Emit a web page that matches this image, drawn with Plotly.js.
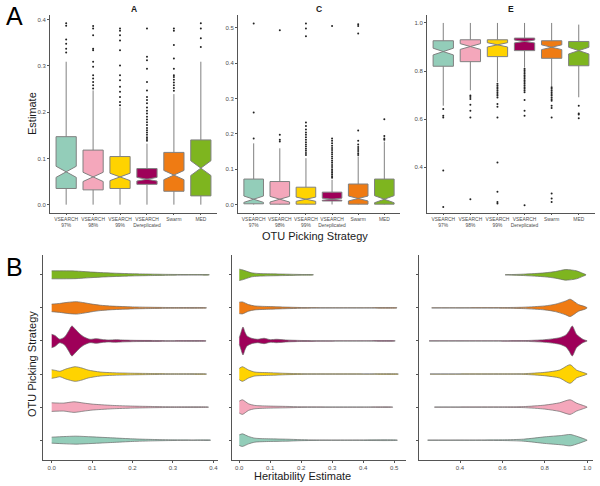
<!DOCTYPE html>
<html><head><meta charset="utf-8">
<script src="https://cdn.plot.ly/plotly-3.0.1.min.js"></script>
<style>html,body{margin:0;padding:0;background:#fff}#chart{width:600px;height:486px}</style>
</head><body><div id="chart"></div>
<script>
// ---------- categories ----------
const categories = ['VSEARCH<br>97%','VSEARCH<br>98%','VSEARCH<br>99%','VSEARCH<br>Dereplicated','Swarm','MED'];
const colors = ['#93CDB9','#F4A7BB','#FFD300','#9E0059','#EF7B13','#7EB51F'];

// ---------- Panel A (box) ----------
const A_lo    = [0.0, 0.0, 0.0, 0.0, 0.0, 0.0];
const A_q1    = [0.035, 0.032, 0.035, 0.044, 0.029, 0.019];
const A_med   = [0.071, 0.060, 0.060, 0.055, 0.064, 0.079];
const A_q3    = [0.147, 0.118, 0.104, 0.078, 0.113, 0.140];
const A_hi    = [0.309, 0.247, 0.210, 0.132, 0.239, 0.309];
const A_notch = [0.012, 0.010, 0.008, 0.004, 0.010, 0.016];
const A_out = [
  [0.392,0.387,0.357,0.348,0.337,0.329],
  [0.386,0.381,0.366,0.337,0.334,0.309,0.298,0.280,0.273,0.265,0.258,0.251],
  [0.381,0.376,0.366,0.355,0.334,0.301,0.280,0.269,0.255,0.244,0.233,0.222,0.215],
  [0.381,0.320,0.312,0.294,0.265,0.247,0.233,0.226,0.219,0.210,0.203,0.197,0.190,0.184,0.178,0.172,0.166,0.161,0.156,0.151,0.146,0.142,0.138],
  [0.381,0.376,0.345,0.316,0.294,0.280,0.276,0.270,0.264,0.258,0.252,0.246],
  [0.392,0.381,0.360,0.341]
];

// ---------- Panel C (box) ----------
const C_lo    = [0.0, 0.0, 0.0, 0.0, 0.0, 0.0];
const C_q1    = [0.002, 0.001, 0.001, 0.010, 0.001, 0.001];
const C_med   = [0.015, 0.015, 0.015, 0.015, 0.017, 0.015];
const C_q3    = [0.072, 0.065, 0.049, 0.035, 0.058, 0.072];
const C_hi    = [0.173, 0.159, 0.131, 0.070, 0.136, 0.178];
const C_notch = [0.009, 0.008, 0.006, 0.003, 0.007, 0.010];
const C_out = [
  [0.512,0.260,0.187],
  [0.493,0.197,0.183,0.178],
  [0.512,0.498,0.476,0.232,0.222,0.212,0.204,0.197,0.190,0.183,0.176,0.170,0.164,0.158,0.152,0.146,0.140],
  [0.505,0.187,0.180,0.173,0.166,0.160,0.154,0.148,0.142,0.136,0.130,0.124,0.118,0.112,0.106,0.100,0.095,0.090,0.085,0.080,0.076],
  [0.510,0.505,0.484,0.209,0.180,0.170,0.163,0.157,0.151,0.145,0.140],
  [0.241,0.194,0.187,0.183]
];

// ---------- Panel E (box) ----------
const E_lo    = [0.656, 0.720, 0.754, 0.815, 0.736, 0.691];
const E_q1    = [0.820, 0.839, 0.860, 0.885, 0.853, 0.822];
const E_med   = [0.881, 0.902, 0.909, 0.923, 0.899, 0.885];
const E_q3    = [0.926, 0.930, 0.930, 0.937, 0.926, 0.923];
const E_hi    = [1.000, 1.000, 1.000, 1.000, 1.000, 0.993];
const E_notch = [0.014, 0.012, 0.009, 0.006, 0.010, 0.014];
const E_out = [
  [0.642,0.614,0.607,0.387,0.235],
  [0.698,0.692,0.684,0.660,0.635,0.607,0.267],
  [0.747,0.740,0.733,0.726,0.719,0.712,0.705,0.698,0.690,0.663,0.652,0.607,0.420,0.298,0.256,0.249],
  [0.810,0.803,0.796,0.789,0.782,0.775,0.768,0.761,0.754,0.747,0.740,0.733,0.726,0.719,0.712,0.680,0.635,0.614,0.242],
  [0.733,0.726,0.719,0.712,0.705,0.698,0.690,0.683,0.677,0.656,0.646,0.607,0.291,0.270,0.256],
  [0.656,0.624,0.619,0.604]
];

// ---------- Violin densities (estimate grid + half-width density) ----------
const vA_x = [
  [0,0.03,0.06,0.1,0.15,0.2,0.25,0.3,0.35,0.393],
  [0,0.03,0.055,0.08,0.1,0.15,0.2,0.25,0.3,0.388],
  [0,0.01,0.02,0.035,0.058,0.075,0.09,0.12,0.15,0.2,0.25,0.3,0.383],
  [0,0.008,0.02,0.032,0.042,0.05,0.058,0.07,0.08,0.095,0.11,0.125,0.14,0.16,0.18,0.21,0.25,0.3,0.382],
  [0,0.02,0.04,0.062,0.08,0.1,0.12,0.15,0.2,0.25,0.3,0.383],
  [0,0.03,0.06,0.09,0.12,0.16,0.2,0.25,0.3,0.35,0.39]
];
const vA_d = [
  [3,3.6,4,3.3,2.3,1.3,0.7,0.35,0.2,0.1],
  [4.3,4,5.3,4,3,1.7,1,0.6,0.35,0.1],
  [4.3,3.6,2.7,5,7.3,6,4,2,1.3,0.8,0.5,0.3,0.1],
  [6.7,5.5,1.8,4,10,15,12,7,4,1.7,2.3,1.5,1.0,1.3,0.9,0.6,0.5,0.3,0.1],
  [3.8,4.5,5.6,6.2,5.2,3.8,2.7,1.8,1.0,0.6,0.35,0.1],
  [4,4,3.8,3,2.3,1.6,1.1,0.7,0.4,0.25,0.1]
];
const vC_x = [
  [0,0.01,0.03,0.05,0.1,0.15,0.2,0.25,0.35,0.51],
  [0,0.01,0.03,0.05,0.1,0.15,0.2,0.3,0.4,0.495],
  [0,0.01,0.03,0.05,0.1,0.15,0.2,0.3,0.4,0.513],
  [0,0.005,0.012,0.018,0.025,0.04,0.06,0.08,0.1,0.12,0.15,0.2,0.3,0.4,0.503],
  [0,0.01,0.03,0.05,0.1,0.15,0.2,0.3,0.4,0.509],
  [0,0.01,0.02,0.04,0.06,0.1,0.15,0.2,0.239]
];
const vC_d = [
  [5.3,6.3,3.7,2,1.3,1,0.5,0.25,0.15,0.1],
  [6,7.3,3.3,1.7,1,0.7,0.35,0.2,0.15,0.1],
  [5.7,7.3,4,2,1.3,0.7,0.35,0.2,0.15,0.1],
  [3.3,8,14,9,5,2.7,1.7,2.7,1.3,1.7,1,0.5,0.2,0.15,0.1],
  [5.7,6,3.3,2,1.3,0.8,0.4,0.2,0.15,0.1],
  [5.7,5,4,2,1.4,1,0.7,0.35,0.1]
];
const vE_x = [
  [0.247,0.4,0.6,0.7,0.8,0.88,0.92,0.96,0.99,1.0],
  [0.279,0.4,0.6,0.7,0.8,0.87,0.92,0.95,0.99,1.0],
  [0.258,0.4,0.6,0.7,0.8,0.87,0.92,0.95,0.98,1.0],
  [0.254,0.4,0.6,0.7,0.8,0.87,0.9,0.915,0.93,0.95,0.98,1.0],
  [0.266,0.4,0.6,0.7,0.8,0.85,0.9,0.92,0.96,0.99,1.0],
  [0.613,0.7,0.8,0.85,0.9,0.95,0.98,0.995]
];
const vE_d = [
  [0.1,0.15,0.35,1,3.3,4.7,5.7,3.3,1,0.1],
  [0.1,0.15,0.25,0.5,2,4.3,7.3,4,1,0.1],
  [0.1,0.15,0.25,0.35,1.7,4,9.3,4,1.7,0.1],
  [0.1,0.15,0.2,0.35,1.3,3.3,6,10,15,6.7,1.7,0.1],
  [0.1,0.15,0.3,0.7,2,3.7,7,8.7,3.3,1.3,0.1],
  [0.1,0.7,2,3.3,5.3,4,1.5,0.1]
];
const violinScale = 33.1; // density units per category step

// ---------- build traces ----------
const traces = [];
function addBoxPanel(lo,q1,med,q3,hi,notch,out,xa,ya){
  for(let i=0;i<categories.length;i++){
    traces.push({type:'box', x:[i], lowerfence:[lo[i]], q1:[q1[i]], median:[med[i]], q3:[q3[i]], upperfence:[hi[i]],
      notchspan:[notch[i]], notched:true, notchwidth:0.5, width:0.75, whiskerwidth:0, boxpoints:false,
      fillcolor:colors[i], line:{color:'#808080', width:1}, xaxis:xa, yaxis:ya, showlegend:false, hoverinfo:'skip'});
  }
  const ox=[], oy=[];
  out.forEach((arr,i)=>arr.forEach(v=>{ox.push(i); oy.push(v);}));
  traces.push({type:'scatter', mode:'markers', x:ox, y:oy, marker:{size:2, color:'#222'}, xaxis:xa, yaxis:ya, showlegend:false, hoverinfo:'skip'});
}
addBoxPanel(A_lo,A_q1,A_med,A_q3,A_hi,A_notch,A_out,'x','y');
addBoxPanel(C_lo,C_q1,C_med,C_q3,C_hi,C_notch,C_out,'x2','y2');
addBoxPanel(E_lo,E_q1,E_med,E_q3,E_hi,E_notch,E_out,'x3','y3');

function addViolinPanel(vx,vd,xa,ya){
  for(let i=0;i<categories.length;i++){
    const xs = vx[i], ds = vd[i];
    const px = xs.concat(xs.slice().reverse());
    const up = ds.map(d=>i+d/violinScale);
    const dn = ds.map(d=>i-d/violinScale).reverse();
    traces.push({type:'scatter', mode:'lines', x:px, y:up.concat(dn), fill:'toself', fillcolor:colors[i],
      line:{color:'#6a6a6a', width:0.7, shape:'spline', smoothing:0.7}, xaxis:xa, yaxis:ya, showlegend:false, hoverinfo:'skip'});
  }
}
addViolinPanel(vA_x,vA_d,'x4','y4');
addViolinPanel(vC_x,vC_d,'x5','y5');
addViolinPanel(vE_x,vE_d,'x6','y6');

// ---------- layout ----------
const FONT = 'Liberation Sans, Arial, sans-serif';
const axLine = {showline:true, linecolor:'#555', linewidth:1, ticks:'outside', ticklen:2, tickcolor:'#555',
  showgrid:false, zeroline:false, tickangle:0, tickfont:{family:FONT, size:6, color:'#4d4d4d'}};
function ax(extra){ return Object.assign({}, axLine, extra); }
const topY=[1-213/486, 1-15/486], botY=[1-460/486, 1-255/486];
const catAxis = {range:[-0.6,5.6], tickvals:[0,1,2,3,4,5], ticktext:categories, ticklen:1,
  tickfont:{family:FONT,size:4.9,color:'#4d4d4d'}};

function ann(text,px,py,size,extra){
  return Object.assign({text:text, x:px/600, y:1-py/486, xref:'paper', yref:'paper', xanchor:'center', yanchor:'middle',
    showarrow:false, font:{family:FONT,size:size,color:'#1a1a1a'}}, extra||{});
}

const layout = {
  width:600, height:486, margin:{l:0,r:0,t:0,b:0}, paper_bgcolor:'#fff', plot_bgcolor:'#fff',
  boxmode:'overlay', showlegend:false,
  xaxis:  ax(Object.assign({domain:[50/600,217/600], anchor:'y'}, catAxis)),
  xaxis2: ax(Object.assign({domain:[238/600,400/600], anchor:'y2'}, catAxis)),
  xaxis3: ax(Object.assign({domain:[427/600,595/600], anchor:'y3'}, catAxis)),
  yaxis:  ax({domain:topY, anchor:'x', range:[-0.018,0.41], tickvals:[0,0.1,0.2,0.3,0.4], ticktext:['0.0','0.1','0.2','0.3','0.4']}),
  yaxis2: ax({domain:topY, anchor:'x2', range:[-0.024,0.536], tickvals:[0,0.1,0.2,0.3,0.4,0.5], ticktext:['0.0','0.1','0.2','0.3','0.4','0.5']}),
  yaxis3: ax({domain:topY, anchor:'x3', range:[0.21,1.033], tickvals:[0.4,0.6,0.8,1.0], ticktext:['0.4','0.6','0.8','1.0']}),
  xaxis4: ax({domain:[43/600,218/600], anchor:'y4', range:[-0.0215,0.4116], tickvals:[0,0.1,0.2,0.3,0.4], ticktext:['0.0','0.1','0.2','0.3','0.4']}),
  xaxis5: ax({domain:[231.7/600,406/600], anchor:'y5', range:[-0.0245,0.538], tickvals:[0,0.1,0.2,0.3,0.4,0.5], ticktext:['0.0','0.1','0.2','0.3','0.4','0.5']}),
  xaxis6: ax({domain:[419.3/600,593/600], anchor:'y6', range:[0.2076,1.028], tickvals:[0.4,0.6,0.8,1.0], ticktext:['0.4','0.6','0.8','1.0']}),
  yaxis4: ax({domain:botY, anchor:'x4', range:[-0.6,5.6], tickvals:[0,1,2,3,4,5], showticklabels:false}),
  yaxis5: ax({domain:botY, anchor:'x5', range:[-0.6,5.6], tickvals:[0,1,2,3,4,5], showticklabels:false}),
  yaxis6: ax({domain:botY, anchor:'x6', range:[-0.6,5.6], tickvals:[0,1,2,3,4,5], showticklabels:false}),
  annotations: [
    ann('A', 14, 16, 25, {font:{family:FONT,size:25,color:'#000'}}),
    ann('B', 14, 267, 25, {font:{family:FONT,size:25,color:'#000'}}),
    ann('<b>A</b>', 133.5, 8.5, 8.5),
    ann('<b>C</b>', 319, 8.5, 8.5),
    ann('<b>E</b>', 511, 8.5, 8.5),
    ann('Estimate', 32, 114, 11, {textangle:-90}),
    ann('OTU Picking Strategy', 315, 236, 11),
    ann('OTU Picking Strategy', 32, 364, 11, {textangle:-90}),
    ann('Heritability Estimate', 302, 476, 11)
  ]
};
Plotly.newPlot('chart', traces, layout, {staticPlot:true, displayModeBar:false});
</script></body></html>
